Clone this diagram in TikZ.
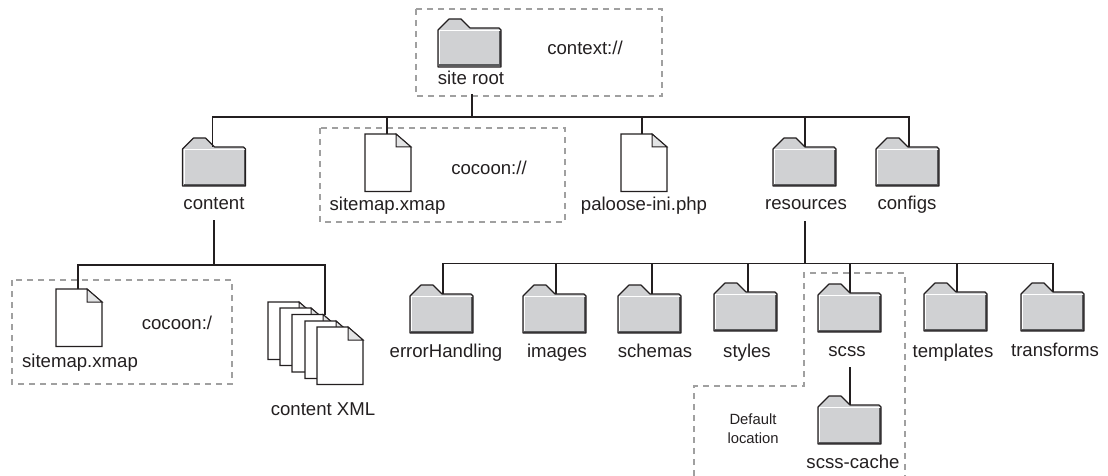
\documentclass[tikz,border=0pt]{standalone}
\usepackage{fontspec}
\setmainfont{Liberation Sans}
\definecolor{foldergray}{HTML}{D0D1D3}
\definecolor{foldershade}{HTML}{5A5B5D}
\definecolor{foldgray}{HTML}{E3E4E5}
\definecolor{dashgray}{HTML}{A0A0A0}
\definecolor{inkgray}{HTML}{231F20}
\tikzset{
	conn/.style={line width=1.9pt, color=inkgray, line join=miter},
	dashbox/.style={line width=1.3pt, color=dashgray, dash pattern=on 6pt off 5pt},
	lbl/.style={font=\fontsize{18.6}{22}\selectfont, text=inkgray, inner sep=0pt, anchor=base},
	smalllbl/.style={font=\fontsize{14.8}{19}\selectfont, text=inkgray, inner sep=0pt, align=center}
}
\def\folder[#1](#2,#3)(#4){
	\begin{scope}[shift={(#2,#3)}]
		\fill[foldergray] (0,11) -- (11,0) -- (23,0) -- (32,9) -- (61,9) -- (63,11) -- (63,48) -- (0,48) -- cycle;
		\draw[line width=1pt, color=white] (1.5,47) -- (1.5,11.5) -- (62,11.5);
		\draw[line width=2pt, color=foldershade] (1,46.5) -- (62,46.5) -- (62,12);
		\draw[line width=1.2pt, color=inkgray, line join=round] (0,11) -- (11,0) -- (23,0) -- (32,9) -- (61,9) -- (63,11) -- (63,48) -- (0,48) -- cycle;
		\coordinate (#1) at (#4,9);
	\end{scope}
}
\def\docfile[#1](#2,#3)(#4){
	\begin{scope}[shift={(#2,#3)}]
		\draw[line width=1.2pt, color=inkgray, fill=white] (0,0) -- (31,0) -- (46,13) -- (46,57.5) -- (0,57.5) -- cycle;
		\draw[line width=1pt, color=inkgray, fill=foldgray] (31,0) -- (31,13) -- (46,13) -- cycle;
		\coordinate (#1) at (#4,0);
	\end{scope}
}

\begin{document}
\begin{tikzpicture}[x=1pt, y=-1pt]
		%%%%% START %%%%%
		\useasboundingbox (0, 0) rectangle (1108, 476);
		
		\draw[dashbox] (416, 9) rectangle (662, 96);
		\draw[dashbox] (320, 128) rectangle (565, 222);
		\draw[dashbox] (12, 280) rectangle (232, 384);
		\draw[dashbox] (694, 476) -- (694, 386) -- (804, 386) -- (804, 273) -- (905, 273) -- (905, 476);
		
		\folder[siteroot](438, 19)(34);
		\folder[content](182.5, 138)(30);
		\folder[resources](773, 138)(32);
		\folder[configs](876, 138)(33);
		\docfile[sitemapb](365, 134)(22);
		\docfile[paloose](621, 134)(21);
		
		\docfile[sitemapa](56, 289)(22);
		\docfile[xmla](268, 302)(33);
		\docfile[xmlb](280, 308)(33);
		\docfile[xmlc](292, 314.5)(33);
		\docfile[xmld](305, 321)(33);
		\docfile[xmle](317, 327)(33);
		
		\folder[errorhandling](410, 285)(33);
		\folder[images](523, 285)(33);
		\folder[schemas](618, 285)(34);
		\folder[styles](714, 283)(34);
		\folder[scss](818, 284)(32);
		\folder[templates](924, 283)(33);
		\folder[transforms](1021, 283)(32);
		\folder[scsscache](818, 396)(32);
		
		\node[lbl] (siterootlbl) at (471, 85) {site root};
		\node[lbl] (contextlbl) at (585, 55) {context://};
		\node[lbl] (contentlbl) at (214, 209) {content};
		\node[lbl] (sitemapblbl) at (387.5, 210) {sitemap.xmap};
		\node[lbl] (cocoonblbl) at (489, 174) {cocoon://};
		\node[lbl] (palooselbl) at (644, 210) {paloose-ini.php};
		\node[lbl] (resourceslbl) at (806, 209) {resources};
		\node[lbl] (configslbl) at (907, 209) {configs};
		\node[lbl] (sitemapalbl) at (80, 367) {sitemap.xmap};
		\node[lbl] (cocoonalbl) at (177, 329) {cocoon:/};
		\node[lbl] (xmllbl) at (323, 415) {content XML};
		\node[lbl] (errorhandlinglbl) at (446, 357) {errorHandling};
		\node[lbl] (imageslbl) at (557, 357) {images};
		\node[lbl] (schemaslbl) at (655, 357) {schemas};
		\node[lbl] (styleslbl) at (747, 357) {styles};
		\node[lbl] (scsslbl) at (847, 356) {scss};
		\node[lbl] (templateslbl) at (953, 357) {templates};
		\node[lbl] (transformslbl) at (1055, 356) {transforms};
		\node[lbl] (scsscachelbl) at (853, 468) {scss-cache};
		\node[smalllbl] (defaultlbl) at (753, 429) {Default\\location};
		
		\coordinate (rootstem) at (472, 94);
		\coordinate (rootbus) at (472, 117);
		\coordinate (contentstem) at (214, 220);
		\coordinate (contentbus) at (214, 265);
		\coordinate (resourcesstem) at (805, 221);
		\coordinate (resourcesbus) at (805, 263.5);
		\coordinate (scssstem) at (850, 367);
		
		\draw[conn] (rootstem) -- (rootbus);
		\draw[conn] (content) |- (rootbus) -| (configs);
		\draw[conn] (sitemapb) -- (sitemapb |- rootbus);
		\draw[conn] (paloose) -- (paloose |- rootbus);
		\draw[conn] (resources) -- (resources |- rootbus);
		
		\draw[conn] (contentstem) -- (contentbus);
		\draw[conn] (sitemapa) |- (contentbus) -| (xmlc);
		
		\draw[conn] (resourcesstem) -- (resourcesbus);
		\draw[conn] (errorhandling) |- (resourcesbus) -| (transforms);
		\draw[conn] (images) -- (images |- resourcesbus);
		\draw[conn] (schemas) -- (schemas |- resourcesbus);
		\draw[conn] (styles) -- (styles |- resourcesbus);
		\draw[conn] (scss) -- (scss |- resourcesbus);
		\draw[conn] (templates) -- (templates |- resourcesbus);
		\draw[conn] (scssstem) -- (scsscache);
		
		%%%%% END %%%%%
	\end{tikzpicture}
\end{document}
